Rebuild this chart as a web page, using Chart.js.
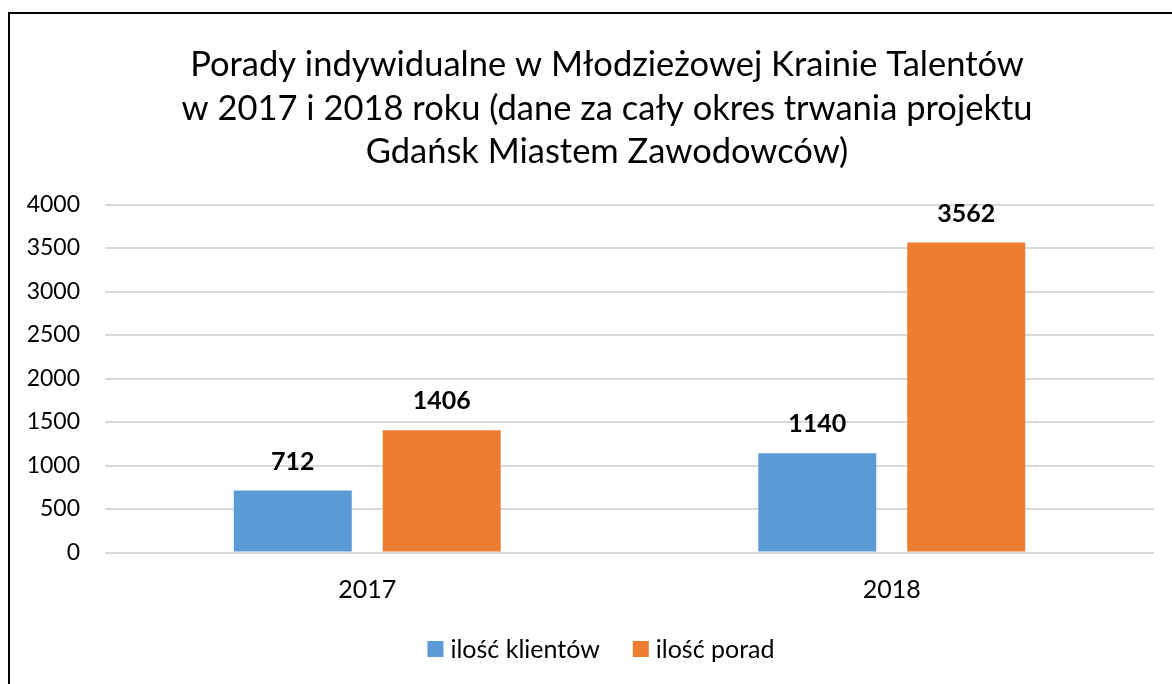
<!DOCTYPE html>
<html>
<head>
<meta charset="utf-8">
<script src="https://cdn.jsdelivr.net/npm/chart.js@4/dist/chart.umd.min.js"></script>
<style>
  html, body { margin: 0; padding: 0; background: #fff; overflow: hidden; }
  #wrap { position: relative; width: 1172px; height: 684px; }
  #frame { position: absolute; left: 8px; top: 12px; width: 1300px; height: 800px;
           border-left: 2px solid #000; border-top: 2px solid #000; pointer-events: none; }
  canvas { position: absolute; left: 0; top: 0; }
</style>
</head>
<body>
<div id="wrap">
  <canvas id="c" width="1172" height="684"></canvas>
  <div id="frame"></div>
</div>
<script>
const titleLines = [
  "Porady indywidualne w Młodzieżowej Krainie Talentów",
  "w 2017 i 2018 roku (dane za cały okres trwania projektu",
  "Gdańsk Miastem Zawodowców)"
];
const categories = ["2017", "2018"];
const seriesNames = ["ilość klientów", "ilość porad"];
const klienci = [712, 1140];
const porady = [1406, 3562];
const colors = ["#5B9BD5", "#ED7D31"];

const FONT = "Lato, 'Open Sans', sans-serif";

const dataLabels = {
  id: "dataLabels",
  afterDatasetsDraw(chart) {
    const ctx = chart.ctx;
    ctx.save();
    ctx.font = "bold 25px " + FONT;
    ctx.fillStyle = "#000";
    ctx.textAlign = "center";
    ctx.textBaseline = "middle";
    chart.data.datasets.forEach((ds, i) => {
      chart.getDatasetMeta(i).data.forEach((bar, j) => {
        ctx.fillText(String(ds.data[j]), bar.x, bar.y - 29);
      });
    });
    ctx.restore();
  }
};

// Title and legend placed like the original (centred on the frame, not the canvas)
const frameText = {
  id: "frameText",
  afterDraw(chart) {
    const ctx = chart.ctx;
    ctx.save();
    // title
    ctx.fillStyle = "#000";
    ctx.textAlign = "center";
    ctx.textBaseline = "middle";
    ctx.font = "34.5px " + FONT;
    const titleCx = 607, titleY0 = 65, titleLH = 43.5;
    titleLines.forEach((t, i) => ctx.fillText(t, titleCx, titleY0 + i * titleLH));
    // legend
    ctx.font = "25px " + FONT;
    const box = 16, gapText = 7, gapItem = 33, legendCx = 601, legendY = 649;
    const items = chart.data.datasets.map(ds => ({
      label: ds.label, color: ds.backgroundColor, w: ctx.measureText(ds.label).width
    }));
    let total = 0;
    items.forEach((it, i) => { total += box + gapText + it.w + (i ? gapItem : 0); });
    let x = legendCx - total / 2;
    ctx.textAlign = "left";
    items.forEach((it) => {
      ctx.fillStyle = it.color;
      ctx.fillRect(x, legendY - box / 2, box, box);
      ctx.fillStyle = "#000";
      ctx.fillText(it.label, x + box + gapText, legendY + 1);
      x += box + gapText + it.w + gapItem;
    });
    ctx.restore();
  }
};

new Chart(document.getElementById("c"), {
  type: "bar",
  data: {
    labels: categories,
    datasets: [
      { label: seriesNames[0], data: klienci, backgroundColor: colors[0] },
      { label: seriesNames[1], data: porady, backgroundColor: colors[1] }
    ]
  },
  options: {
    responsive: false,
    animation: false,
    devicePixelRatio: 1,
    categoryPercentage: 0.568,
    barPercentage: 0.792,
    layout: { padding: { left: 0, right: 18, top: 204.5, bottom: 79.5 } },
    plugins: {
      title: { display: false },
      legend: { display: false },
      tooltip: { enabled: false }
    },
    scales: {
      x: {
        grid: { display: false, drawTicks: false },
        border: { display: false },
        ticks: { color: "#000", font: { family: FONT, size: 25 }, padding: 22 },
        afterFit(scale) { scale.height = 52; }
      },
      y: {
        min: 0, max: 4000,
        ticks: { stepSize: 500, color: "#000", font: { family: FONT, size: 23 }, padding: 25,
                 callback: (v) => String(v) },
        grid: { color: "#D9D9D9", lineWidth: 2, drawTicks: false },
        border: { display: false },
        afterFit(scale) { scale.width = 105; }
      }
    }
  },
  plugins: [dataLabels, frameText]
});
</script>
</body>
</html>
